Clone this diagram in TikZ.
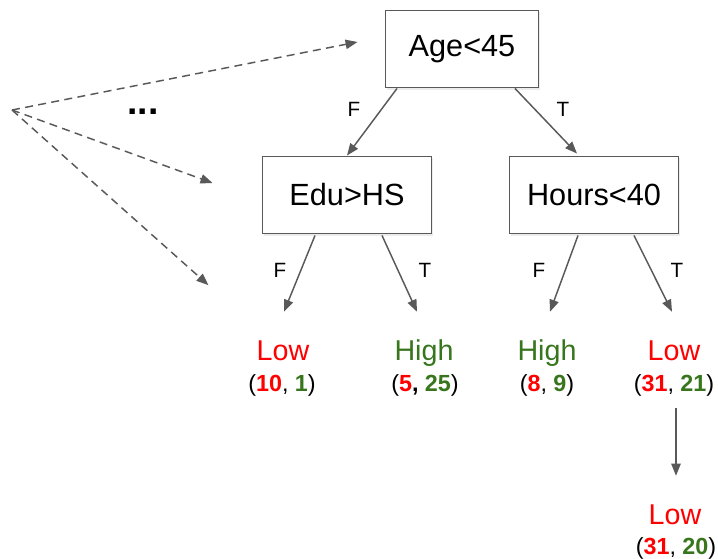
\documentclass[tikz,border=0pt]{standalone}
\usepackage{fontspec}
\setmainfont{Liberation Sans}
\usetikzlibrary{arrows.meta,shadows}

\definecolor{lowred}{HTML}{FF0000}
\definecolor{highgreen}{HTML}{38761D}
\definecolor{linegray}{HTML}{595959}
\newcommand{\lowcnt}[1]{\textbf{\color{lowred}#1}}
\newcommand{\highcnt}[1]{\textbf{\color{highgreen}#1}}

\begin{document}
\begin{tikzpicture}[x=0.75pt, y=-0.75pt,
  test/.style={draw=linegray, line width=1.2pt, fill=white, inner sep=0pt,
    minimum height=58pt, font=\fontsize{23}{27}\selectfont,
    drop shadow={opacity=0.15, shadow xshift=1pt, shadow yshift=-1.5pt}},
  leaf/.style={anchor=base, inner sep=0pt, text height=36pt, font=\fontsize{21.5}{25}\selectfont},
  count/.style={anchor=base, inner sep=0pt, font=\fontsize{17.5}{21}\selectfont},
  branch/.style={font=\fontsize{15.5}{18}\selectfont},
  edge/.style={draw=linegray, line width=1.1pt, -{Triangle[length=9pt, width=7pt]}},
  dashedge/.style={edge, dash pattern=on 6pt off 4pt}]

\useasboundingbox (0,0) rectangle (718,558);

% Tests
\node [test, minimum width=115pt] (age) at (462, 49) {Age<45};
\node [test, minimum width=127pt] (edu) at (347, 195) {Edu>HS};
\node [test, minimum width=127pt] (hours) at (594, 195) {Hours<40};

% Leaves
\node [leaf, lowred] (low1) at (283, 360) {Low};
\node [count] (c1) at (282, 391) {(\lowcnt{10}, \highcnt{1})};

\node [leaf, highgreen] (high2) at (424, 360) {High};
\node [count] (c2) at (425, 391) {(\lowcnt{5}\textbf{,} \highcnt{25})};

\node [leaf, highgreen] (high3) at (547, 360) {High};
\node [count] (c3) at (547, 391) {(\lowcnt{8}, \highcnt{9})};

\node [leaf, lowred] (low4) at (674, 360) {Low};
\node [count] (c4) at (674, 391) {(\lowcnt{31}, \highcnt{21})};

\node [leaf, lowred] (low5) at (675, 524) {Low};
\node [count] (c5) at (676, 554) {(\lowcnt{31}, \highcnt{20})};

% Branches
\draw [edge] ([shift={(-65,0)}]age.south) -- (edu.north);
\draw [edge] ([shift={(53,0)}]age.south) -- ([shift={(-17,-2)}]hours.north);
\draw [edge] ([shift={(-32,1)}]edu.south) -- ([shift={(1,0)}]low1.north);
\draw [edge] ([shift={(35,1)}]edu.south) -- ([shift={(-7,0)}]high2.north);
\draw [edge] ([shift={(-16,1)}]hours.south) -- ([shift={(3,0)}]high3.north);
\draw [edge] ([shift={(40,1)}]hours.south) -- ([shift={(-2,0)}]low4.north);
\draw [edge] ([shift={(2,12)}]c4.south) -- ([shift={(1,0)}]low5.north);

\node [branch] (fa) at (354, 109) {F};
\node [branch] (ta) at (563, 109) {T};
\node [branch] (fe) at (280, 270) {F};
\node [branch] (te) at (425, 270) {T};
\node [branch] (fh) at (539, 270) {F};
\node [branch] (th) at (677, 270) {T};

% Other features
\coordinate (split) at (12, 110);
\draw [dashedge] (split) -- ([shift={(-27,-7)}]age.west);
\draw [dashedge] (split) -- ([shift={(-49,-12)}]edu.west);
\draw [dashedge] (split) -- ([shift={(-48,-51)}]low1.west);
\node [font=\bfseries\fontsize{28}{30}\selectfont] (more) at (143, 112) {...};

\end{tikzpicture}
\end{document}
